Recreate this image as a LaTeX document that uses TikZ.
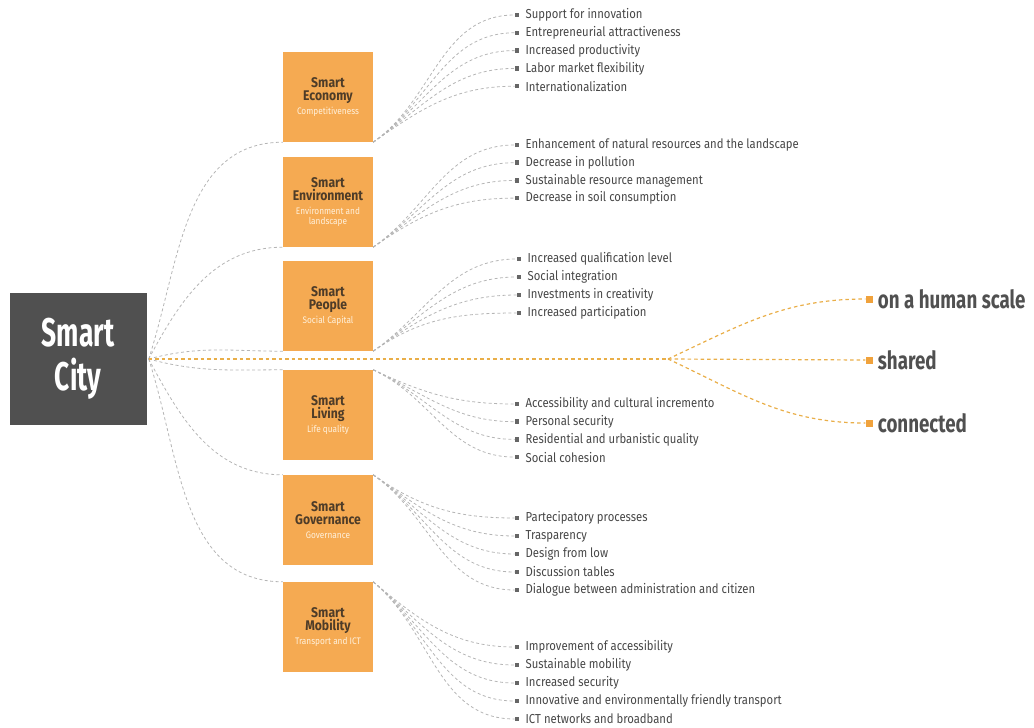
\documentclass[tikz,border=0pt]{standalone}
\usepackage{fontspec}
\setmainfont{Fira Sans}[FakeStretch=0.75]
\newfontfamily\narrowfont{Fira Sans}[FakeStretch=0.66]
\newfontfamily\condfont{Fira Sans}[FakeStretch=0.87]
\usetikzlibrary{positioning}

\definecolor{cityGray}{HTML}{505050}
\definecolor{areaOrange}{HTML}{F5AA52}
\definecolor{areaBrown}{HTML}{4E3C28}
\definecolor{areaNote}{HTML}{FFF1DC}
\definecolor{itemGray}{HTML}{474747}
\definecolor{markGray}{HTML}{666666}
\definecolor{linkGray}{HTML}{B5B5B5}
\definecolor{linkGold}{HTML}{E9AE48}
\definecolor{markOrange}{HTML}{F0A23C}

\newcommand{\areanote}[1]{{\color{areaNote}\mdseries\fontsize{9.5}{10}\selectfont #1}}

\tikzset{
  cityBox/.style={fill=cityGray, minimum width=137pt, minimum height=132pt, inner sep=0pt,
    text=white, align=center, font=\narrowfont\bfseries\fontsize{40}{44}\selectfont},
  areaBox/.style={fill=areaOrange, minimum width=90pt, minimum height=90pt, inner sep=0pt,
    align=center, text=areaBrown, font=\condfont\bfseries\fontsize{14}{13.5}\selectfont},
  itemMark/.style={fill=markGray, minimum size=4.5pt, inner sep=0pt},
  itemText/.style={text=itemGray, font=\condfont\fontsize{13}{15}\selectfont, inner sep=0pt},
  link/.style={draw=linkGray, dash pattern=on 3pt off 2.5pt, line width=0.8pt},
  goldLink/.style={draw=linkGold, dash pattern=on 3.5pt off 3pt, line width=1.2pt},
  goalMark/.style={fill=markOrange, minimum size=7pt, inner sep=0pt},
  goalText/.style={text=cityGray, font=\bfseries\fontsize{25}{28}\selectfont, inner sep=0pt}
}

\begin{document}
\begin{tikzpicture}[x=1pt, y=-1pt]
\useasboundingbox (0,0) rectangle (1034,728);

% Smart City box
\node[cityBox] (city) at (78,359) {Smart\\City};
\coordinate[right=2pt of city] (hub);

% Area boxes
\node[areaBox] (eco) at (328,97) {Smart\\Economy\\\areanote{Competitiveness}};
\node[areaBox] (env) at (328,202) {Smart\\Environment\\\areanote{Environment and}\\[-3pt]\areanote{landscape}};
\node[areaBox] (peo) at (328,306) {Smart\\People\\\areanote{Social Capital}};
\node[areaBox] (liv) at (328,415) {Smart\\Living\\\areanote{Life quality}};
\node[areaBox] (gov) at (328,520) {Smart\\Governance\\\areanote{Governance}};
\node[areaBox] (mob) at (328,627) {Smart\\Mobility\\\areanote{Transport and ICT}};

% City to areas
\draw[link] (hub) to[out=72, in=180] (eco.south west);
\draw[link] (hub) to[out=62, in=180] (env.south west);
\draw[link] (hub) to[out=15, in=180] (peo.south west);
\draw[link] (hub) to[out=-15, in=180] (liv.north west);
\draw[link] (hub) to[out=-62, in=180] (gov.north west);
\draw[link] (hub) to[out=-72, in=180] (mob.north west);

% Economy items
\foreach \txt [count=\i] in {Support for innovation, Entrepreneurial attractiveness, Increased productivity, Labor market flexibility, Internationalization} {
  \node[itemMark] (eco-m\i) at (517, {15+17.8*(\i-1)}) {};
  \node[itemText, right=6pt of eco-m\i] (eco-t\i) {\txt};
  \draw[link] (eco.south east) to[out=35, in=180] (eco-m\i.west);
}

% Environment items
\foreach \txt [count=\i] in {Enhancement of natural resources and the landscape, Decrease in pollution, Sustainable resource management, Decrease in soil consumption} {
  \node[itemMark] (env-m\i) at (517, {145+17.7*(\i-1)}) {};
  \node[itemText, right=6pt of env-m\i] (env-t\i) {\txt};
  \draw[link] (env.south east) to[out=35, in=180] (env-m\i.west);
}

% People items
\foreach \txt [count=\i] in {Increased qualification level, Social integration, Investments in creativity, Increased participation} {
  \node[itemMark] (peo-m\i) at (519, {259+18*(\i-1)}) {};
  \node[itemText, right=6pt of peo-m\i] (peo-t\i) {\txt};
  \draw[link] (peo.south east) to[out=35, in=180] (peo-m\i.west);
}

% Living items
\foreach \txt [count=\i] in {Accessibility and cultural incremento, Personal security, Residential and urbanistic quality, Social cohesion} {
  \node[itemMark] (liv-m\i) at (517, {404+17.7*(\i-1)}) {};
  \node[itemText, right=6pt of liv-m\i] (liv-t\i) {\txt};
  \draw[link] (liv.north east) to[out=-25, in=180] (liv-m\i.west);
}

% Governance items
\foreach \txt [count=\i] in {Partecipatory processes, Trasparency, Design from low, Discussion tables, Dialogue between administration and citizen} {
  \node[itemMark] (gov-m\i) at (517, {518+18*(\i-1)}) {};
  \node[itemText, right=6pt of gov-m\i] (gov-t\i) {\txt};
  \draw[link] (gov.north east) to[out=-35, in=180] (gov-m\i.west);
}

% Mobility items
\foreach \txt [count=\i] in {Improvement of accessibility, Sustainable mobility, Increased security, Innovative and environmentally friendly transport, ICT networks and broadband} {
  \node[itemMark] (mob-m\i) at (517, {647+18*(\i-1)}) {};
  \node[itemText, right=6pt of mob-m\i] (mob-t\i) {\txt};
  \draw[link] (mob.north east) to[out=-40, in=180] (mob-m\i.west);
}

% Goals
\coordinate (fork) at (668,359);
\node[goalMark] (human-m) at (869,299) {};
\node[goalText, right=5pt of human-m] (human) {on a human scale};
\node[goalMark] (shared-m) at (869,360) {};
\node[goalText, right=5pt of shared-m] (shared) {shared};
\node[goalMark] (conn-m) at (869,423) {};
\node[goalText, right=5pt of conn-m] (conn) {connected};

\draw[goldLink] (hub) -- (fork);
\draw[goldLink] (fork) to[out=25, in=180] (human-m.west);
\draw[goldLink] (fork) -- (shared-m.west);
\draw[goldLink] (fork) to[out=-25, in=180] (conn-m.west);
\end{tikzpicture}
\end{document}
